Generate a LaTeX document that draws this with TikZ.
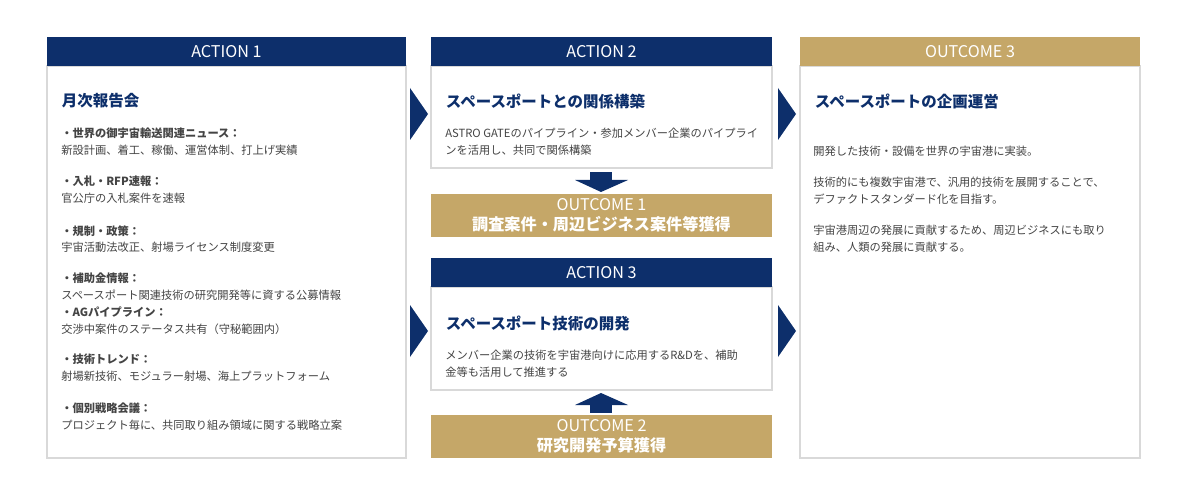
\documentclass[tikz,border=0pt]{standalone}
\usepackage{fontspec}
\setmainfont{Noto Sans CJK JP}
\definecolor{navy}{HTML}{0D2F6B}
\definecolor{gold}{HTML}{C5A768}
\definecolor{txtgray}{HTML}{444444}
\tikzset{
  head/.style={fill=navy,text=white,font=\fontsize{11.5}{13}\selectfont},
  goal/.style={fill=gold,text=white,font=\fontsize{11.5}{14}\selectfont,align=center},
  panel/.style={draw=black!15,fill=white,line width=0.8pt},
  ttl/.style={anchor=west,text=navy,font=\fontsize{11}{13}\selectfont\bfseries},
  item/.style={anchor=north west,text=txtgray,align=left,inner sep=0pt,font=\fontsize{8}{12}\selectfont},
  blk/.style={fill=navy},
}
\begin{document}
\begin{tikzpicture}[x=0.025cm,y=-0.025cm]
\useasboundingbox (0,0) rectangle (1200,484);
% panels
\draw[panel] (47,66) rectangle (406,458);
\draw[panel] (431,66) rectangle (772,168);
\draw[panel] (431,287) rectangle (772,390);
\draw[panel] (800,66) rectangle (1140,458);
% headers
\fill[navy] (47,37) rectangle (406,66);
\fill[navy] (431,37) rectangle (772,66);
\fill[navy] (431,258) rectangle (772,287);
\fill[gold] (800,37) rectangle (1140,66);
\node[head] (a1) at (226.5,51.5) {ACTION 1};
\node[head] (a2) at (601.5,51.5) {ACTION 2};
\node[head] (a3) at (601.5,272.5) {ACTION 3};
\node[head,fill=gold] (o3) at (970,51.5) {OUTCOME 3};
% outcomes
\fill[gold] (431,194) rectangle (772,237);
\fill[gold] (431,415) rectangle (772,458);
\node[goal] (o1) at (601.5,215.5) {OUTCOME 1\\\textbf{調査案件・周辺ビジネス案件等獲得}};
\node[goal] (o2) at (601.5,436.5) {OUTCOME 2\\\textbf{研究開発予算獲得}};
% arrows
\fill[blk] (410,88) -- (428,114) -- (410,140) -- cycle;
\fill[blk] (410,305) -- (428,331) -- (410,357) -- cycle;
\fill[blk] (778,88) -- (796,114) -- (778,140) -- cycle;
\fill[blk] (778,305) -- (796,331) -- (778,357) -- cycle;
\fill[blk] (590,172) rectangle (612,180);
\fill[blk] (575,180) -- (628,180) -- (601,192) -- cycle;
\fill[blk] (575,405) -- (628,405) -- (601,393) -- cycle;
\fill[blk] (590,405) rectangle (612,413);
% action 1 text
\node[ttl] (t1) at (57,101) {月次報告会};
\node[item] (i1) at (61,128) {\textbf{・世界の御宇宙輸送関連ニュース：}\\新設計画、着工、稼働、運営体制、打上げ実績};
\node[item] (i2) at (61,176) {\textbf{・入札・RFP速報：}\\官公庁の入札案件を速報};
\node[item] (i3) at (61,225) {\textbf{・規制・政策：}\\宇宙活動法改正、射場ライセンス制度変更};
\node[item] (i4) at (61,273) {\textbf{・補助金情報：}\\スペースポート関連技術の研究開発等に資する公募情報\\\textbf{・AGパイプライン：}\\交渉中案件のステータス共有（守秘範囲内）};
\node[item] (i5) at (61,354) {\textbf{・技術トレンド：}\\射場新技術、モジュラー射場、海上プラットフォーム};
\node[item] (i6) at (61,403) {\textbf{・個別戦略会議：}\\プロジェクト毎に、共同取り組み領域に関する戦略立案};
% action 2 / 3 text
\node[ttl] (t2) at (441,101) {スペースポートとの関係構築};
\node[item] (i7) at (445,128) {ASTRO GATEのパイプライン・参加メンバー企業のパイプライ\\ンを活用し、共同で関係構築};
\node[ttl] (t3) at (441,323) {スペースポート技術の開発};
\node[item] (i8) at (445,350) {メンバー企業の技術を宇宙港向けに応用するR\&Dを、補助\\金等も活用して推進する};
% outcome 3 text
\node[ttl] (t4) at (810,101) {スペースポートの企画運営};
\node[item] (i9) at (813,146) {開発した技術・設備を世界の宇宙港に実装。\\[10pt]技術的にも複数宇宙港で、汎用的技術を展開することで、\\デファクトスタンダード化を目指す。\\[10pt]宇宙港周辺の発展に貢献するため、周辺ビジネスにも取り\\組み、人類の発展に貢献する。};
\end{tikzpicture}
\end{document}
